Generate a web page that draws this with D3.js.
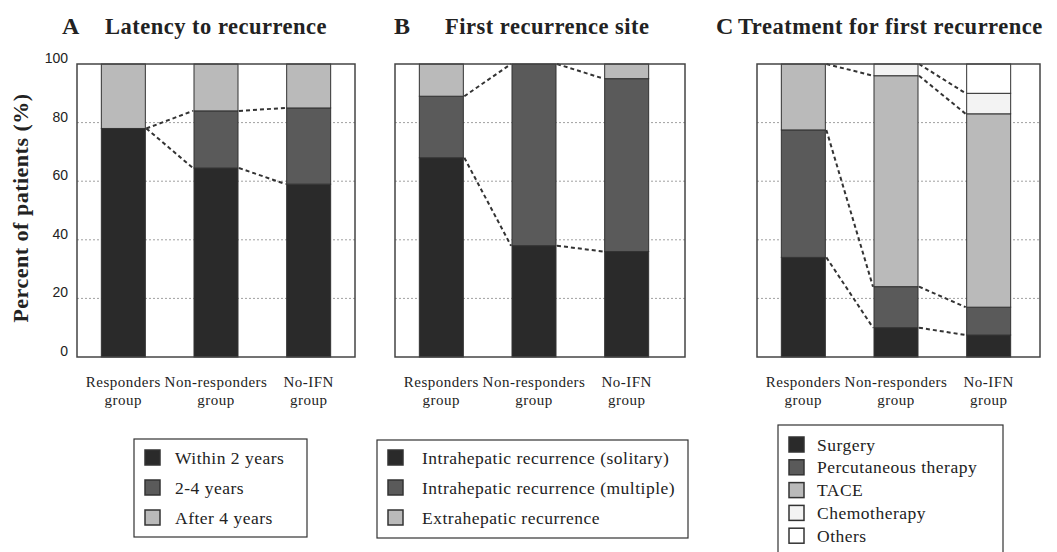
<!DOCTYPE html>
<html>
<head>
<meta charset="utf-8">
<script src="https://cdn.jsdelivr.net/npm/d3@7"></script>
<style>
  body { margin: 0; background: #fff; }
  svg { display: block; }
  .grid { stroke: #a0a0a0; stroke-dasharray: 2,2; stroke-width: 1; }
  .frame { fill: none; stroke: #444; stroke-width: 1.5; }
  .link { fill: none; stroke: #333; stroke-width: 2; stroke-dasharray: 4,3; }
  .title { font-family: "Liberation Serif", serif; font-weight: bold; fill: #222; letter-spacing: 0.5px; }
  .cat { font-family: "Liberation Serif", serif; font-size: 15px; fill: #222; letter-spacing: 0.5px; }
  .legend text { font-family: "Liberation Serif", serif; font-size: 17.5px; fill: #222; letter-spacing: 0.5px; }
</style>
</head>
<body>
<svg id="chart" width="1057" height="552"></svg>
<script>
/* stacked percentage bars, three panels */

const groupLines = [["Responders", "group"], ["Non-responders", "group"], ["No-IFN", "group"]];
const yTicks = [0, 20, 40, 60, 80, 100];

// A: latency to recurrence
const latencyKeys = ["Within 2 years", "2-4 years", "After 4 years"];
const latencyWithin2 = [78, 64.5, 59];
const latency2to4 = [0, 19.5, 26];
const latencyAfter4 = [22, 16, 15];

// B: first recurrence site
const siteKeys = ["Intrahepatic recurrence (solitary)", "Intrahepatic recurrence (multiple)", "Extrahepatic recurrence"];
const siteSolitary = [68, 38, 36];
const siteMultiple = [21, 62, 59];
const siteExtra = [11, 0, 5];

// C: treatment for first recurrence
const treatKeys = ["Surgery", "Percutaneous therapy", "TACE", "Chemotherapy", "Others"];
const treatSurgery = [34, 10, 7.5];
const treatPercut = [43.5, 14, 9.5];
const treatTACE = [22.5, 72, 66];
const treatChemo = [0, 4, 7];
const treatOthers = [0, 0, 10];

// dashed connectors: [fromBar, fromSegment, toBar, toSegment] (top of segment)
const latencyLinks = [[0, 0, 1, 1], [1, 1, 2, 1], [0, 0, 1, 0], [1, 0, 2, 0]];
const siteLinks = [[0, 1, 1, 1], [1, 1, 2, 1], [0, 0, 1, 0], [1, 0, 2, 0]];
const treatLinks = [[0, 2, 1, 2], [1, 3, 2, 3], [1, 2, 2, 2], [0, 1, 1, 1], [1, 1, 2, 1], [0, 0, 1, 0], [1, 0, 2, 0]];

const shades = ["#2a2a2a", "#5a5a5a", "#bababa", "#f3f3f3", "#ffffff"];

const svg = d3.select("#chart");
const y = d3.scaleLinear().domain([0, 100]).range([357, 64]);
const barW = 44;

function panel(opt) {
    const g = svg.append("g");
    const groups = groupLines.map(d => d.join(" "));
    const x = d3.scalePoint().domain(groups).range([opt.left, opt.left + 278]).padding(0.5);

    const rows = groups.map((name, i) => {
        const r = {name: name};
        opt.series.forEach((s, k) => r[k] = s[i]);
        return r;
    });
    const stack = d3.stack().keys(opt.series.map((s, k) => k))(rows);

    // grid
    g.selectAll("line.grid").data(yTicks.filter(t => t > 0 && t < 100)).enter()
        .append("line").attr("class", "grid")
        .attr("x1", opt.left).attr("x2", opt.left + opt.width)
        .attr("y1", d => y(d)).attr("y2", d => y(d));

    // bars
    stack.forEach((layer, k) => {
        g.selectAll(null).data(layer.filter(d => d[1] - d[0] > 0)).enter()
            .append("rect")
            .attr("x", d => x(d.data.name) - barW / 2)
            .attr("width", barW)
            .attr("y", d => y(d[1]))
            .attr("height", d => y(d[0]) - y(d[1]))
            .attr("fill", shades[k])
            .attr("stroke", "#333").attr("stroke-width", 1);
    });

    // connectors
    g.selectAll("line.link").data(opt.links).enter()
        .append("line").attr("class", "link")
        .attr("x1", d => x(groups[d[0]]) + barW / 2 + 1)
        .attr("y1", d => y(stack[d[1]][d[0]][1]))
        .attr("x2", d => x(groups[d[2]]) - barW / 2 - 1)
        .attr("y2", d => y(stack[d[3]][d[2]][1]));

    g.append("rect").attr("class", "frame")
        .attr("x", opt.left).attr("y", y(100))
        .attr("width", opt.width).attr("height", y(0) - y(100));

    // category labels
    const cat = g.selectAll("text.cat").data(groupLines).enter()
        .append("text").attr("class", "cat")
        .attr("text-anchor", "middle")
        .attr("x", (d, i) => x(groups[i]))
        .attr("y", 387);
    cat.selectAll("tspan").data(d => d).enter()
        .append("tspan")
        .attr("x", function() { return d3.select(this.parentNode).attr("x"); })
        .attr("dy", (d, i) => i ? 18 : 0)
        .text(d => d);

    // title
    g.append("text").attr("class", "title")
        .attr("x", opt.letterX).attr("y", 34)
        .style("font-size", "24px").text(opt.letter);
    g.append("text").attr("class", "title")
        .attr("x", opt.titleX).attr("y", 34)
        .style("font-size", "22.5px").text(opt.title);

    // legend
    const lg = svg.append("g").attr("class", "legend");
    lg.append("rect")
        .attr("x", opt.legend.x).attr("y", opt.legend.y)
        .attr("width", opt.legend.w).attr("height", opt.legend.h)
        .attr("fill", "none").attr("stroke", "#333").attr("stroke-width", 1.2);
    const item = lg.selectAll("g.item").data(opt.keys).enter()
        .append("g").attr("class", "item")
        .attr("transform", (d, i) => `translate(${opt.legend.x + 11},${opt.legend.first + i * opt.legend.step})`);
    item.append("rect")
        .attr("x", 0).attr("y", -8).attr("width", 15).attr("height", 15)
        .attr("fill", (d, i) => shades[i])
        .attr("stroke", "#333").attr("stroke-width", 1.5);
    item.append("text")
        .attr("x", opt.legend.textDx).attr("y", 5.5)
        .text(d => d);

    return g;
}

panel({
    left: 77, width: 278, series: [latencyWithin2, latency2to4, latencyAfter4],
    keys: latencyKeys, links: latencyLinks,
    letter: "A", letterX: 62, title: "Latency to recurrence", titleX: 105,
    legend: {x: 134, y: 439, w: 173, h: 98, first: 458, step: 30, textDx: 30}
});
panel({
    left: 395, width: 290, series: [siteSolitary, siteMultiple, siteExtra],
    keys: siteKeys, links: siteLinks,
    letter: "B", letterX: 394, title: "First recurrence site", titleX: 445,
    legend: {x: 377, y: 440, w: 311, h: 98, first: 458, step: 30, textDx: 34}
});
panel({
    left: 757, width: 283, series: [treatSurgery, treatPercut, treatTACE, treatChemo, treatOthers],
    keys: treatKeys, links: treatLinks,
    letter: "C", letterX: 716, title: "Treatment for first recurrence", titleX: 738,
    legend: {x: 778, y: 425, w: 225, h: 140, first: 445, step: 22.8, textDx: 28}
});

// y axis on panel A
const yAxis = svg.append("g")
    .attr("transform", "translate(77,-6)")
    .call(d3.axisLeft(y).tickValues(yTicks).tickSize(0).tickPadding(9));
yAxis.select(".domain").remove();
yAxis.selectAll("text")
    .style("font-family", "'Liberation Sans', Arial, sans-serif")
    .style("font-size", "14px").attr("fill", "#222");

svg.append("text").attr("class", "title")
    .attr("transform", "translate(28,208) rotate(-90)")
    .attr("text-anchor", "middle")
    .style("font-size", "22px")
    .text("Percent of patients (%)");
</script>
</body>
</html>
